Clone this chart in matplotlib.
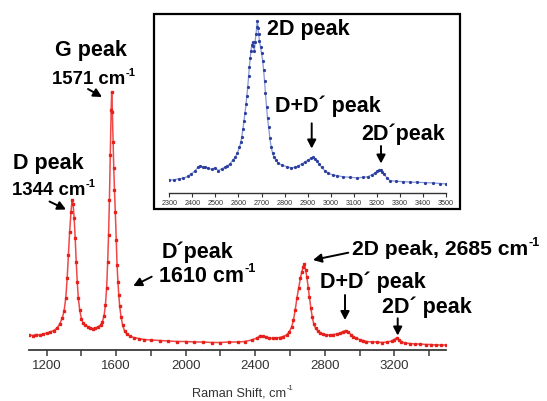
import matplotlib
matplotlib.use("Agg")
import matplotlib.pyplot as plt
from matplotlib.patches import Rectangle, FancyArrowPatch

plt.rcParams["font.family"] = ["Liberation Sans", "DejaVu Sans"]

# ---------- main spectrum (Raman shift, intensity a.u.) ----------
shift = [1100, 1120, 1140, 1160, 1180, 1200, 1220, 1240, 1260, 1275, 1290, 1300,
         1310, 1318, 1325, 1332, 1340, 1346, 1352, 1358, 1364, 1370, 1376, 1382,
         1390, 1400, 1410, 1420, 1435, 1450, 1465, 1480, 1495, 1510, 1520, 1530,
         1538, 1545, 1551, 1556, 1561, 1566, 1571, 1574, 1578, 1582, 1586, 1590,
         1595, 1600, 1605, 1610, 1615, 1620, 1628, 1637, 1648, 1660, 1680, 1700,
         1730, 1760, 1800, 1850, 1900, 1950, 2000, 2050, 2100, 2150, 2200, 2250,
         2300, 2340, 2380, 2410, 2430, 2445, 2460, 2480, 2500, 2520, 2540, 2560,
         2580, 2595, 2610, 2620, 2630, 2640, 2650, 2660, 2668, 2676, 2683, 2690,
         2697, 2705, 2712, 2720, 2728, 2737, 2747, 2760, 2775, 2790, 2810, 2830,
         2850, 2870, 2890, 2905, 2920, 2935, 2950, 2965, 2980, 3000, 3020, 3040,
         3070, 3100, 3130, 3160, 3185, 3200, 3213, 3225, 3240, 3260, 3290, 3320,
         3350, 3380, 3410, 3440, 3470, 3500]
intensity = [15, 14.5, 15.5, 15, 16, 17, 18, 19.5, 22, 26, 32, 39,
             52, 72, 95, 118, 138, 150, 146, 132, 112, 88, 68, 52,
             40, 31, 27, 25, 23.5, 22.5, 21.5, 22, 23, 25, 28, 34,
             45, 62, 88, 115, 150, 195, 240, 258, 238, 208, 182, 160,
             138, 110, 85, 68, 55, 44, 33, 25, 19, 16, 14, 12.5,
             11.5, 10.5, 10, 9.5, 9, 8.5, 8.5, 8, 8, 7.5, 7.5, 8,
             8, 8.5, 10, 12, 14.5, 14, 13, 12, 12, 12, 12.5, 13.5,
             15, 18, 23, 30, 40, 52, 62, 72, 78, 83, 86, 80,
             73, 62, 53, 42, 33, 26, 22, 19, 17, 16, 15, 15,
             15.5, 16, 17, 18.5, 19.5, 18, 15.5, 13.5, 12, 10.5, 9.5, 8.5,
             8, 8, 7.5, 8, 9, 10.5, 12, 10.5, 8.5, 7, 6.5, 6,
             6, 5.5, 5.5, 5, 5, 5]

# ---------- inset: 2300-3500 region ----------
inset_shift = [2300, 2320, 2340, 2361, 2380, 2395, 2410, 2425, 2435, 2445, 2455,
               2470, 2484, 2497, 2513, 2527, 2541, 2552, 2563, 2575, 2585, 2595,
               2604, 2610, 2614, 2619, 2624, 2628, 2633, 2636, 2640, 2644, 2647,
               2651, 2654, 2658, 2661, 2665, 2669, 2672, 2676, 2679, 2682, 2685,
               2687, 2691, 2696, 2700, 2705, 2709, 2713, 2717, 2722, 2726, 2731,
               2736, 2742, 2748, 2754, 2763, 2773, 2790, 2809, 2827, 2845, 2860,
               2874, 2889, 2903, 2913, 2922, 2930, 2939, 2950, 2961, 2975, 2990,
               3008, 3026, 3055, 3084, 3112, 3141, 3160, 3178, 3192, 3202, 3210,
               3217, 3224, 3231, 3243, 3257, 3285, 3315, 3345, 3373, 3410, 3445,
               3475, 3500]
inset_int = [13.3, 13.5, 14.5, 15, 17, 19.5, 22, 26.5, 27.7, 26, 26.5,
             25, 24, 25.5, 22.7, 24.5, 26, 27.5, 29.4, 33, 36, 40,
             46, 51, 56, 64, 72.7, 80, 89.4, 97, 106, 117, 126,
             135, 142.7, 148, 151, 147, 142.7, 151, 159.4, 166, 172.7, 165,
             159, 152, 146, 140, 132.7, 123, 112.7, 100, 86, 75, 66,
             55, 46, 40, 36, 33, 30, 28, 26.7, 25.5, 26, 27.5,
             29.4, 31.5, 33.4, 35, 36, 34.5, 32.7, 29, 26, 22.5, 20,
             18.5, 17.7, 16.5, 16, 15.5, 16, 16.5, 18.4, 20.5, 22, 23,
             23.4, 21.5, 19.4, 15.5, 12.7, 12, 11.7, 11.2, 11, 10.7, 10.4,
             9.8, 9.4]

main_ticks = list(range(1200, 3401, 200))
main_labels = [str(t) if t % 400 == 0 else "" for t in main_ticks]
inset_ticks = list(range(2300, 3501, 100))

W, H = 547, 401
fig = plt.figure(figsize=(W / 100, H / 100), dpi=100)
renderer = fig.canvas.get_renderer()


def box(x0, y0, x1, y1):
    # pixel box (top-left origin) -> figure fraction rect
    return [x0 / W, 1 - y1 / H, (x1 - x0) / W, (y1 - y0) / H]


# main axes
ax = fig.add_axes(box(29.3, 85, 446.4, 350))
ax.plot(shift, intensity, color="#f04848", lw=1.1, marker="s", ms=1.8,
        mfc="#e5211b", mec="#e5211b")
ax.set_xlim(1100, 3500)
ax.set_ylim(0, 265)
for s in ("top", "left", "right"):
    ax.spines[s].set_visible(False)
ax.spines["bottom"].set_color("#3a3a3a")
ax.spines["bottom"].set_linewidth(1.3)
ax.set_yticks([])
ax.set_xticks(main_ticks)
ax.set_xticklabels(main_labels)
ax.tick_params(axis="x", direction="out", length=4, width=1.1, color="#3a3a3a",
               labelsize=9.5, labelcolor="#333333", pad=3)
ax.patch.set_alpha(0)

# inset frame + axes
fig.patches.append(Rectangle((154 / W, 1 - 209.3 / H), (460 - 154) / W, (209.3 - 14) / H,
                             transform=fig.transFigure, fill=False, ec="black", lw=1.6))
iax = fig.add_axes(box(169.3, 15, 446, 193.3))
iax.plot(inset_shift, inset_int, color="#8a97d6", lw=0.9, marker="o", ms=1.3,
         mfc="#2b3f9e", mec="#2b3f9e")
iax.set_xlim(2300, 3500)
iax.set_ylim(0, 178.3)
for s in ("top", "left", "right"):
    iax.spines[s].set_visible(False)
iax.spines["bottom"].set_color("#333333")
iax.spines["bottom"].set_linewidth(1.0)
iax.set_yticks([])
iax.set_xticks(inset_ticks)
iax.tick_params(axis="x", direction="out", length=3, width=0.8, color="#333333",
                labelsize=5.2, labelcolor="#333333", pad=1.5)
iax.patch.set_alpha(0)


def label(x, y, s, size=15.5, sup=None, weight="bold", color="black", ha="left"):
    t = fig.text(x / W, 1 - y / H, s, ha=ha, va="baseline", fontsize=size,
                 fontweight=weight, color=color)
    if sup:
        bb = t.get_window_extent(renderer)
        fig.text((bb.x1 + 0.5) / W, 1 - (y - size * 0.62) / H, sup, ha="left",
                 va="baseline", fontsize=size * 0.6, fontweight=weight, color=color)
    return t


def arrow(x0, y0, x1, y1):
    fig.add_artist(FancyArrowPatch(
        (x0 / W, 1 - y0 / H), (x1 / W, 1 - y1 / H), transform=fig.transFigure,
        arrowstyle="-|>,head_length=5,head_width=2.6", lw=1.4, color="black",
        shrinkA=0, shrinkB=0))


label(192, 396, "Raman Shift, cm", 9.2, "-1", weight="normal", color="#333333")

label(55, 56, "G peak")
label(52, 84, "1571 cm", 13.4, "-1")
arrow(88, 89, 102, 97)
label(13, 169, "D peak")
label(12, 195, "1344 cm", 13.4, "-1")
arrow(49.5, 201.5, 66, 209.5)
label(161.7, 258.3, "D\u00b4peak")
label(159.3, 281.7, "1610 cm", 15.5, "-1")
arrow(151.7, 276.7, 133.3, 286)
label(351.7, 255, "2D peak, 2685 cm", 15.2, "-1")
arrow(348.3, 252.7, 313, 260)
label(320, 288.3, "D+D\u00b4 peak")
arrow(345, 295, 345, 320)
label(381.7, 313.3, "2D\u00b4 peak")
arrow(397.7, 318.3, 397.7, 335.5)

# inset labels
label(266.7, 35, "2D peak")
label(275, 111.7, "D+D\u00b4 peak")
arrow(311.7, 123.3, 311.7, 148.5)
label(361.7, 140, "2D\u00b4peak")
arrow(381, 146, 381, 163.5)

fig.savefig("out.png", dpi=100)
